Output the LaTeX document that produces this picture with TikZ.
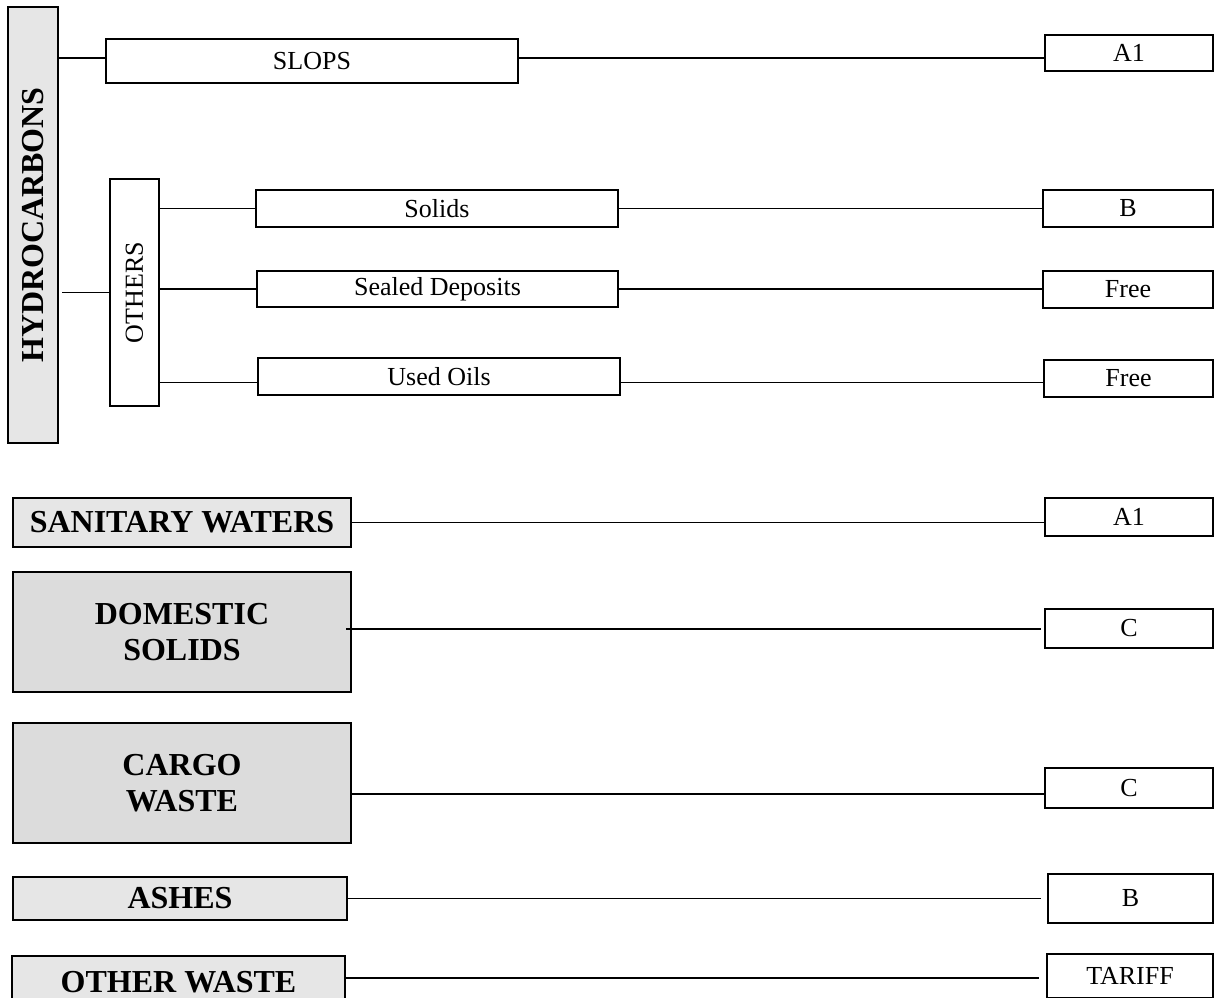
\documentclass[tikz,border=0pt]{standalone}
\usepackage{fontspec}
\setmainfont{Liberation Serif}
\definecolor{lightfill}{HTML}{E6E6E6}
\definecolor{darkfill}{HTML}{DCDCDC}
\tikzset{
  box/.style={draw, line width=2pt, inner sep=0pt, outer sep=0pt, anchor=north west, align=center, fill=white},
  sz/.style 2 args={minimum width=#1pt, minimum height=#2pt},
  lite/.style={fill=lightfill},
  dark/.style={fill=darkfill},
  big/.style={font=\fontsize{32}{36}\selectfont\bfseries},
  small/.style={font=\fontsize{26}{30}\selectfont},
  conn/.style={line width=1.8pt}
}
\begin{document}
\begin{tikzpicture}[x=1pt,y=-1pt]
\useasboundingbox (0,0) rectangle (1214,997);
\clip (0,0) rectangle (1214,997);
% hydrocarbons group
\node[box,lite,big,sz={50}{436}] (hydro) at (8,7) {\rotatebox{90}{HYDROCARBONS}};
\node[box,small,sz={412}{44}] (slops) at (106,39) {SLOPS};
\node[box,small,sz={168}{36}] (a1) at (1045,35) {A1};
\node[box,small,sz={49}{227}] (others) at (110,179) {\rotatebox{90}{OTHERS}};
\node[box,small,sz={362}{37}] (solids) at (256,190) {Solids};
\node[box,small,sz={170}{37}] (b1) at (1043,190) {B};
\node[box,small,sz={361}{36}] (sealed) at (257,271) {Sealed Deposits};
\node[box,small,sz={170}{37}] (free1) at (1043,271) {Free};
\node[box,small,sz={362}{37}] (used) at (258,358) {Used Oils};
\node[box,small,sz={169}{37}] (free2) at (1044,360) {Free};
% other categories
\node[box,lite,big,sz={338}{49}] (sanitary) at (13,498) {SANITARY WATERS};
\node[box,small,sz={168}{38}] (a1b) at (1045,498) {A1};
\node[box,dark,big,sz={338}{120}] (domestic) at (13,572) {DOMESTIC\\SOLIDS};
\node[box,small,sz={168}{39}] (c1) at (1045,609) {C};
\node[box,dark,big,sz={338}{120}] (cargo) at (13,723) {CARGO\\WASTE};
\node[box,small,sz={168}{40}] (c2) at (1045,768) {C};
\node[box,lite,big,sz={334}{43}] (ashes) at (13,877) {ASHES};
\node[box,small,sz={165}{49}] (b2) at (1048,874) {B};
\node[box,lite,big,sz={333}{52}] (other) at (12,956) {OTHER WASTE};
\node[box,small,sz={166}{44}] (tariff) at (1047,954) {TARIFF};
% connectors
\draw[conn] ([yshift=3pt]slops.west) -- ([yshift=3pt]slops.west -| hydro.east);
\draw[conn] ([yshift=3pt]slops.east) -- ([yshift=3pt]slops.east -| a1.west);
\draw[conn, shorten >=4pt] (others.west) -- (others.west -| hydro.east);
\draw[conn] (solids.west) -- (solids.west -| others.east);
\draw[conn] (sealed.west) -- (sealed.west -| others.east);
\draw[conn] ([yshift=-6pt]used.west) -- ([yshift=-6pt]used.west -| others.east);
\draw[conn] (solids.east) -- (solids.east -| b1.west);
\draw[conn] (sealed.east) -- (sealed.east -| free1.west);
\draw[conn] ([yshift=-6pt]used.east) -- ([yshift=-6pt]used.east -| free2.west);
\draw[conn] (sanitary.east) -- (sanitary.east -| a1b.west);
\draw[conn, shorten <=-5pt, shorten >=4pt] ([yshift=3pt]domestic.east) -- ([yshift=3pt]domestic.east -| c1.west);
\draw[conn] ([yshift=-11pt]cargo.east) -- ([yshift=-11pt]cargo.east -| c2.west);
\draw[conn, shorten >=7pt] (ashes.east) -- (ashes.east -| b2.west);
\draw[conn, shorten >=8pt] ([yshift=4pt]other.east) -- ([yshift=4pt]other.east -| tariff.west);
\end{tikzpicture}
\end{document}
